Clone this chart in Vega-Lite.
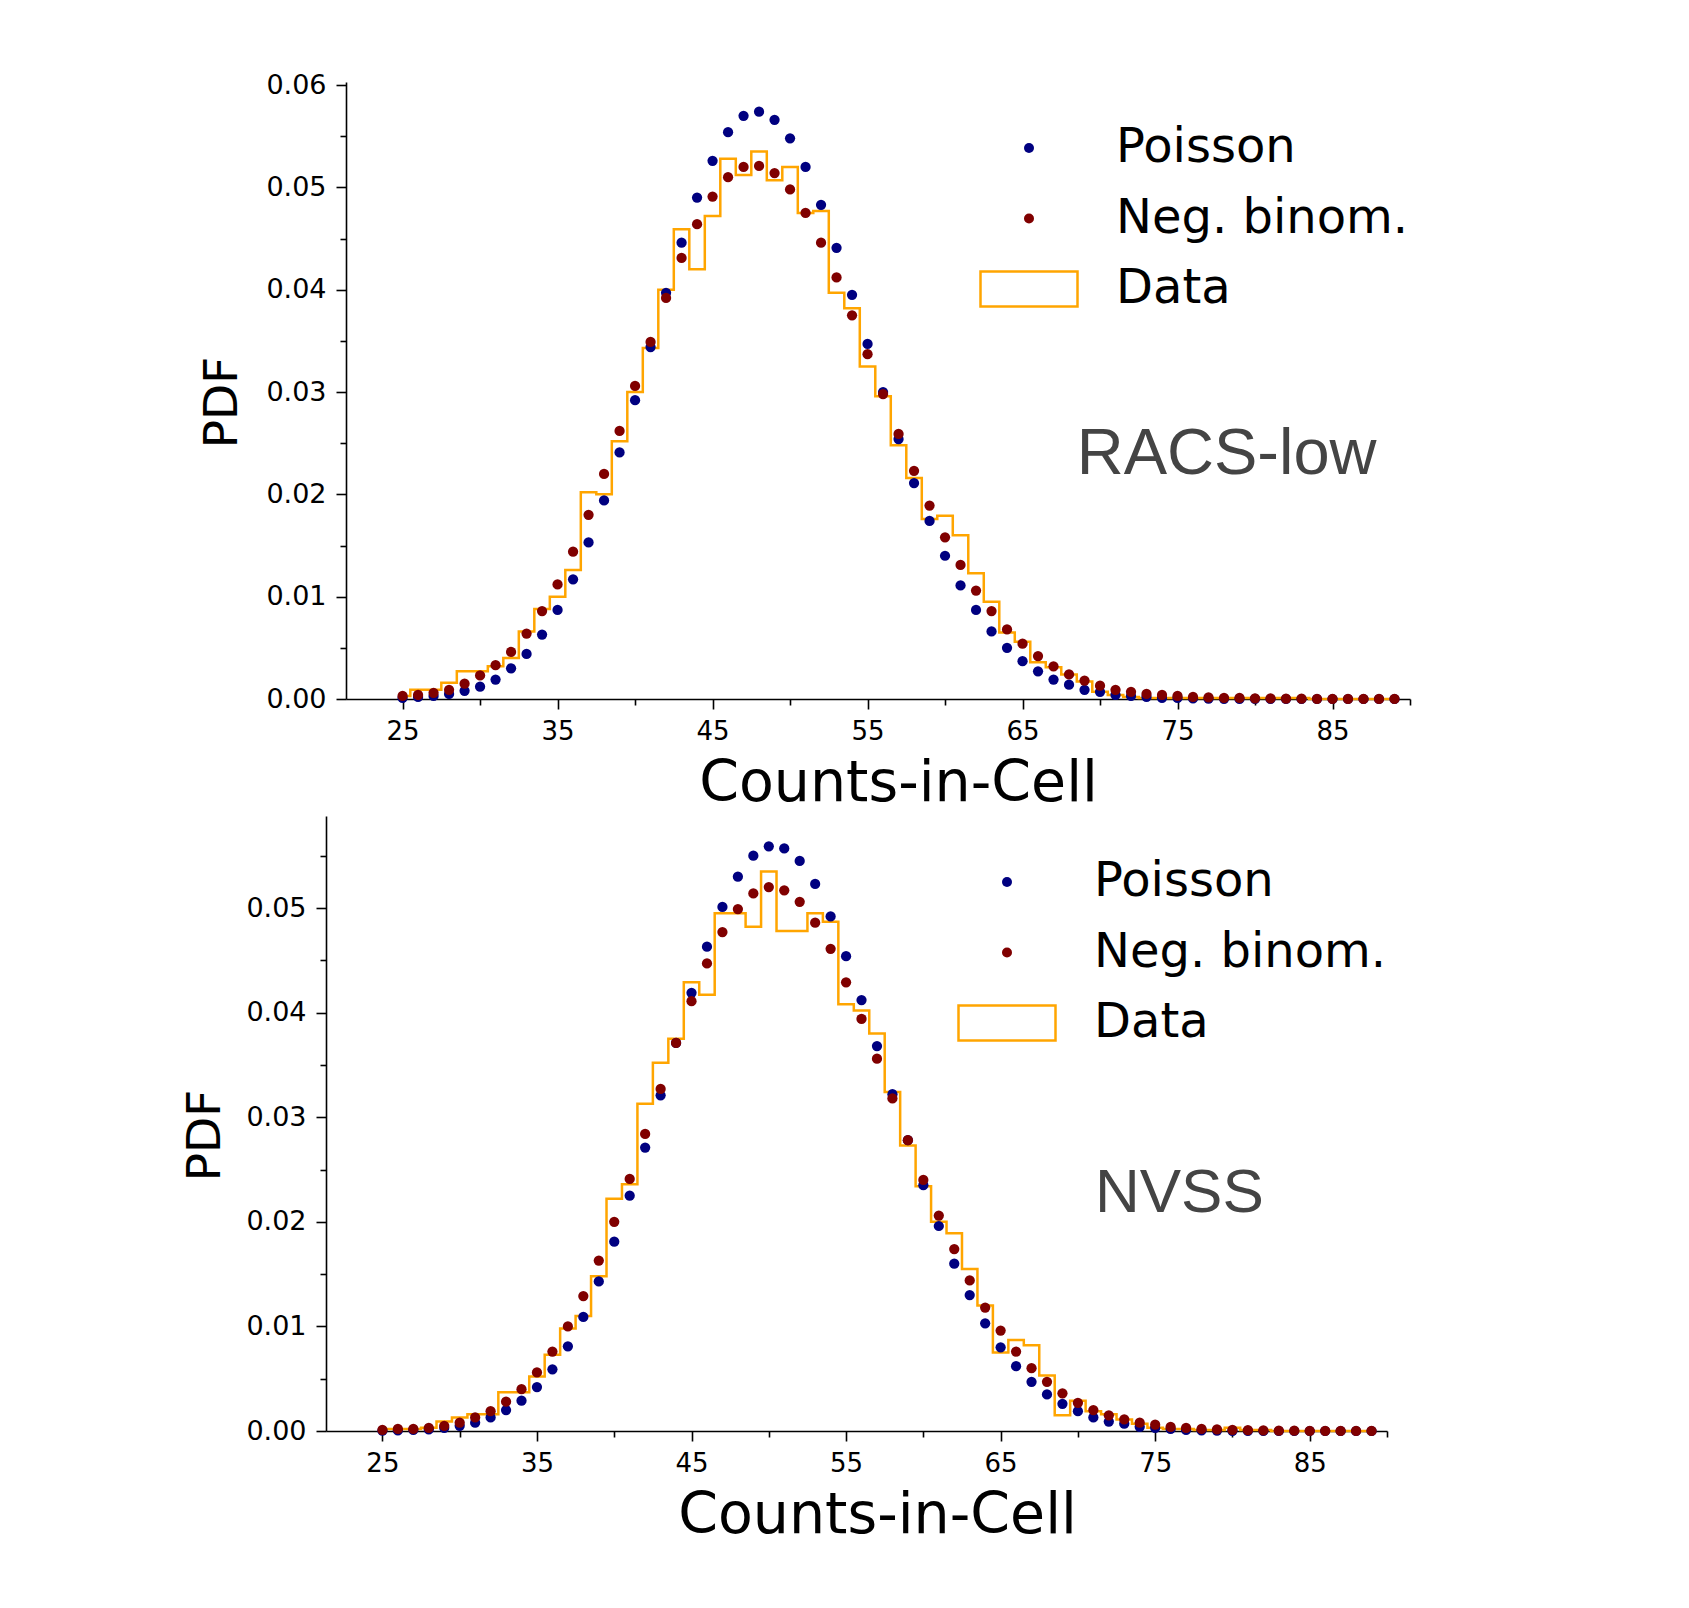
{
  "$schema": "https://vega.github.io/schema/vega-lite/v6.json",
  "background": "white",
  "padding": {"left": 181, "top": 71, "right": 20, "bottom": 20},
  "datasets": {
    "racs": [
      {"k":25,"poisson":0.0001,"negbin":0.0003,"hist":0.0003},
      {"k":26,"poisson":0.0002,"negbin":0.0004,"hist":0.0009},
      {"k":27,"poisson":0.0003,"negbin":0.0006,"hist":0.0009},
      {"k":28,"poisson":0.0005,"negbin":0.0009,"hist":0.0016},
      {"k":29,"poisson":0.0008,"negbin":0.0015,"hist":0.0027},
      {"k":30,"poisson":0.0012,"negbin":0.0023,"hist":0.0027},
      {"k":31,"poisson":0.0019,"negbin":0.0033,"hist":0.0032},
      {"k":32,"poisson":0.0030,"negbin":0.0046,"hist":0.0040},
      {"k":33,"poisson":0.0044,"negbin":0.0064,"hist":0.0066},
      {"k":34,"poisson":0.0063,"negbin":0.0086,"hist":0.0088},
      {"k":35,"poisson":0.0087,"negbin":0.0112,"hist":0.0100},
      {"k":36,"poisson":0.0117,"negbin":0.0144,"hist":0.0126},
      {"k":37,"poisson":0.0153,"negbin":0.0180,"hist":0.0202},
      {"k":38,"poisson":0.0194,"negbin":0.0220,"hist":0.0200},
      {"k":39,"poisson":0.0241,"negbin":0.0262,"hist":0.0252},
      {"k":40,"poisson":0.0292,"negbin":0.0306,"hist":0.0300},
      {"k":41,"poisson":0.0344,"negbin":0.0349,"hist":0.0343},
      {"k":42,"poisson":0.0397,"negbin":0.0392,"hist":0.0400},
      {"k":43,"poisson":0.0446,"negbin":0.0431,"hist":0.0459},
      {"k":44,"poisson":0.0490,"negbin":0.0464,"hist":0.0420},
      {"k":45,"poisson":0.0526,"negbin":0.0491,"hist":0.0472},
      {"k":46,"poisson":0.0554,"negbin":0.0510,"hist":0.0528},
      {"k":47,"poisson":0.0570,"negbin":0.0520,"hist":0.0512},
      {"k":48,"poisson":0.0574,"negbin":0.0521,"hist":0.0535},
      {"k":49,"poisson":0.0566,"negbin":0.0514,"hist":0.0507},
      {"k":50,"poisson":0.0548,"negbin":0.0498,"hist":0.0520},
      {"k":51,"poisson":0.0520,"negbin":0.0475,"hist":0.0475},
      {"k":52,"poisson":0.0483,"negbin":0.0446,"hist":0.0477},
      {"k":53,"poisson":0.0441,"negbin":0.0412,"hist":0.0397},
      {"k":54,"poisson":0.0395,"negbin":0.0375,"hist":0.0382},
      {"k":55,"poisson":0.0347,"negbin":0.0337,"hist":0.0325},
      {"k":56,"poisson":0.0300,"negbin":0.0298,"hist":0.0296},
      {"k":57,"poisson":0.0254,"negbin":0.0259,"hist":0.0248},
      {"k":58,"poisson":0.0211,"negbin":0.0223,"hist":0.0216},
      {"k":59,"poisson":0.0174,"negbin":0.0189,"hist":0.0176},
      {"k":60,"poisson":0.0140,"negbin":0.0158,"hist":0.0179},
      {"k":61,"poisson":0.0111,"negbin":0.0131,"hist":0.0160},
      {"k":62,"poisson":0.0087,"negbin":0.0106,"hist":0.0123},
      {"k":63,"poisson":0.0066,"negbin":0.0086,"hist":0.0095},
      {"k":64,"poisson":0.0050,"negbin":0.0068,"hist":0.0065},
      {"k":65,"poisson":0.0037,"negbin":0.0054,"hist":0.0056},
      {"k":66,"poisson":0.0027,"negbin":0.0042,"hist":0.0036},
      {"k":67,"poisson":0.0019,"negbin":0.0032,"hist":0.0031},
      {"k":68,"poisson":0.0014,"negbin":0.0024,"hist":0.0024},
      {"k":69,"poisson":0.0009,"negbin":0.0018,"hist":0.0017},
      {"k":70,"poisson":0.0007,"negbin":0.0013,"hist":0.0007},
      {"k":71,"poisson":0.0004,"negbin":0.0009,"hist":0.0004},
      {"k":72,"poisson":0.0003,"negbin":0.0007,"hist":0.0002},
      {"k":73,"poisson":0.0002,"negbin":0.0005,"hist":0.0001},
      {"k":74,"poisson":0.0001,"negbin":0.0004,"hist":0.0001},
      {"k":75,"poisson":0.0001,"negbin":0.0003,"hist":0.0001},
      {"k":76,"poisson":0.00005,"negbin":0.0002,"hist":0.0001},
      {"k":77,"poisson":0.00003,"negbin":0.00015,"hist":0.0001},
      {"k":78,"poisson":0.00002,"negbin":0.0001,"hist":0.0001},
      {"k":79,"poisson":0.00001,"negbin":0.0001,"hist":0.0001},
      {"k":80,"poisson":0.00001,"negbin":0.00007,"hist":0.0001},
      {"k":81,"poisson":0.0,"negbin":0.00005,"hist":0.0001},
      {"k":82,"poisson":0.0,"negbin":0.00004,"hist":0.0001},
      {"k":83,"poisson":0.0,"negbin":0.00003,"hist":0.0001},
      {"k":84,"poisson":0.0,"negbin":0.00002,"hist":0.0},
      {"k":85,"poisson":0.0,"negbin":0.00002,"hist":0.0},
      {"k":86,"poisson":0.0,"negbin":0.00001,"hist":0.0},
      {"k":87,"poisson":0.0,"negbin":0.00001,"hist":0.0},
      {"k":88,"poisson":0.0,"negbin":0.00001,"hist":0.0},
      {"k":89,"poisson":0.0,"negbin":0.00001,"hist":0.0}
    ],
    "nvss": [
      {"k":25,"poisson":0.00003,"negbin":0.0001,"hist":0.0002},
      {"k":26,"poisson":0.00005,"negbin":0.0002,"hist":0.0002},
      {"k":27,"poisson":0.0001,"negbin":0.0002,"hist":0.0002},
      {"k":28,"poisson":0.00015,"negbin":0.0003,"hist":0.0003},
      {"k":29,"poisson":0.0003,"negbin":0.0005,"hist":0.0009},
      {"k":30,"poisson":0.0005,"negbin":0.0008,"hist":0.0013},
      {"k":31,"poisson":0.0008,"negbin":0.0013,"hist":0.0016},
      {"k":32,"poisson":0.0013,"negbin":0.0019,"hist":0.0016},
      {"k":33,"poisson":0.0020,"negbin":0.0028,"hist":0.0037},
      {"k":34,"poisson":0.0029,"negbin":0.0040,"hist":0.0037},
      {"k":35,"poisson":0.0042,"negbin":0.0056,"hist":0.0052},
      {"k":36,"poisson":0.0059,"negbin":0.0076,"hist":0.0073},
      {"k":37,"poisson":0.0081,"negbin":0.0100,"hist":0.0098},
      {"k":38,"poisson":0.0109,"negbin":0.0129,"hist":0.0110},
      {"k":39,"poisson":0.0143,"negbin":0.0163,"hist":0.0148},
      {"k":40,"poisson":0.0181,"negbin":0.0200,"hist":0.0222},
      {"k":41,"poisson":0.0225,"negbin":0.0241,"hist":0.0236},
      {"k":42,"poisson":0.0271,"negbin":0.0284,"hist":0.0313},
      {"k":43,"poisson":0.0321,"negbin":0.0327,"hist":0.0352},
      {"k":44,"poisson":0.0371,"negbin":0.0371,"hist":0.0375},
      {"k":45,"poisson":0.0419,"negbin":0.0411,"hist":0.0429},
      {"k":46,"poisson":0.0463,"negbin":0.0447,"hist":0.0417},
      {"k":47,"poisson":0.0501,"negbin":0.0477,"hist":0.0495},
      {"k":48,"poisson":0.0530,"negbin":0.0499,"hist":0.0495},
      {"k":49,"poisson":0.0550,"negbin":0.0514,"hist":0.0482},
      {"k":50,"poisson":0.0559,"negbin":0.0520,"hist":0.0535},
      {"k":51,"poisson":0.0557,"negbin":0.0517,"hist":0.0478},
      {"k":52,"poisson":0.0545,"negbin":0.0506,"hist":0.0478},
      {"k":53,"poisson":0.0523,"negbin":0.0486,"hist":0.0495},
      {"k":54,"poisson":0.0492,"negbin":0.0461,"hist":0.0487},
      {"k":55,"poisson":0.0454,"negbin":0.0429,"hist":0.0408},
      {"k":56,"poisson":0.0412,"negbin":0.0394,"hist":0.0402},
      {"k":57,"poisson":0.0368,"negbin":0.0356,"hist":0.0380},
      {"k":58,"poisson":0.0322,"negbin":0.0318,"hist":0.0324},
      {"k":59,"poisson":0.0278,"negbin":0.0278,"hist":0.0273},
      {"k":60,"poisson":0.0235,"negbin":0.0240,"hist":0.0234},
      {"k":61,"poisson":0.0196,"negbin":0.0206,"hist":0.0200},
      {"k":62,"poisson":0.0160,"negbin":0.0174,"hist":0.0189},
      {"k":63,"poisson":0.0130,"negbin":0.0144,"hist":0.0155},
      {"k":64,"poisson":0.0103,"negbin":0.0118,"hist":0.0120},
      {"k":65,"poisson":0.0080,"negbin":0.0096,"hist":0.0075},
      {"k":66,"poisson":0.0062,"negbin":0.0076,"hist":0.0087},
      {"k":67,"poisson":0.0047,"negbin":0.0060,"hist":0.0082},
      {"k":68,"poisson":0.0035,"negbin":0.0047,"hist":0.0053},
      {"k":69,"poisson":0.0026,"negbin":0.0036,"hist":0.0015},
      {"k":70,"poisson":0.0019,"negbin":0.0027,"hist":0.0029},
      {"k":71,"poisson":0.0013,"negbin":0.0020,"hist":0.0019},
      {"k":72,"poisson":0.0009,"negbin":0.0015,"hist":0.0016},
      {"k":73,"poisson":0.0007,"negbin":0.0011,"hist":0.0011},
      {"k":74,"poisson":0.0004,"negbin":0.0008,"hist":0.0007},
      {"k":75,"poisson":0.0003,"negbin":0.0006,"hist":0.0003},
      {"k":76,"poisson":0.0002,"negbin":0.0004,"hist":0.0002},
      {"k":77,"poisson":0.0001,"negbin":0.0003,"hist":0.0002},
      {"k":78,"poisson":0.00006,"negbin":0.0002,"hist":0.0001},
      {"k":79,"poisson":0.00004,"negbin":0.00015,"hist":0.0001},
      {"k":80,"poisson":0.00002,"negbin":0.0001,"hist":0.0003},
      {"k":81,"poisson":0.00001,"negbin":0.00008,"hist":0.0001},
      {"k":82,"poisson":0.0,"negbin":0.00006,"hist":0.0001},
      {"k":83,"poisson":0.0,"negbin":0.00004,"hist":0.0},
      {"k":84,"poisson":0.0,"negbin":0.00003,"hist":0.0},
      {"k":85,"poisson":0.0,"negbin":0.00002,"hist":0.0},
      {"k":86,"poisson":0.0,"negbin":0.00002,"hist":0.0},
      {"k":87,"poisson":0.0,"negbin":0.00001,"hist":0.0},
      {"k":88,"poisson":0.0,"negbin":0.00001,"hist":0.0},
      {"k":89,"poisson":0.0,"negbin":0.00001,"hist":0.0}
    ]
  },
  "config": {
    "font": "DejaVu Sans",
    "view": {"stroke": null},
    "axis": {
      "grid": false,
      "domainColor": "black", "domainWidth": 1.6,
      "tickColor": "black", "tickWidth": 1.6,
      "labelColor": "black", "labelFont": "DejaVu Sans", "labelFontSize": 26, "labelPadding": 9,
      "labelOverlap": false, "labelFlush": false,
      "titleColor": "black", "titleFont": "DejaVu Sans", "titleFontWeight": "normal"
    },
    "axisY": {"labelFontSize": 27, "labelPadding": 10},
    "legend": {
      "orient": "none", "title": null, "padding": 0,
      "labelFont": "DejaVu Sans", "labelFontSize": 48, "labelColor": "black", "labelLimit": 0,
      "symbolSize": 9409, "symbolStrokeWidth": 2.5, "labelOffset": 63, "rowPadding": 22.5
    }
  },
  "spacing": 117,
  "bounds": "flush",
  "resolve": {"scale": {"x": "independent", "y": "independent", "color": "independent"}, "legend": {"color": "independent"}},
  "vconcat": [
    {
      "width": 1084, "height": 617,
      "data": {"name": "racs"},
      "layer": [
        {
          "mark": {"type": "line", "interpolate": "step", "strokeWidth": 2.5},
          "encoding": {
            "x": {"field": "k", "type": "quantitative",
              "scale": {"domain": [21.35, 90], "range": [20, 1084], "nice": false, "zero": false},
              "axis": {"title": "Counts-in-Cell", "titleFontSize": 57, "titleX": 572, "titlePadding": 11,
                "values": [25,30,35,40,45,50,55,60,65,70,75,80,85,90],
                "labelExpr": "(datum.value - 25) % 10 == 0 ? datum.label : ''",
                "tickSize": {"condition": {"test": "(datum.value - 25) % 10 == 0", "value": 10}, "value": 6}}},
            "y": {"field": "hist", "type": "quantitative",
              "scale": {"domain": [0, 0.0603], "nice": false},
              "axis": {"title": "PDF", "titleFontSize": 47, "titlePadding": 19, "titleY": 320, "offset": -20,
                "values": [0,0.005,0.01,0.015,0.02,0.025,0.03,0.035,0.04,0.045,0.05,0.055,0.06],
                "labelExpr": "round(datum.value*1000) % 10 == 0 ? format(datum.value, '.2f') : ''",
                "tickSize": {"condition": {"test": "round(datum.value*1000) % 10 == 0", "value": 10}, "value": 6}}},
            "color": {"datum": "hist", "type": "nominal",
              "scale": {"domain": ["poisson", "negbin", "hist"], "range": ["#000080", "#800000", "#ffa500"]},
              "legend": {"legendX": 679, "legendY": 42,
                "labelExpr": "datum.value == 'poisson' ? 'Poisson' : datum.value == 'negbin' ? 'Neg. binom.' : 'Data'",
                "encode": {"symbols": {"update": {
                  "shape": {"signal": "datum.value == 'hist' ? 'M-1,-0.36L1,-0.36L1,0.36L-1,0.36Z' : 'circle'"},
                  "size": {"signal": "datum.value == 'hist' ? 9409 : 100"},
                  "fill": {"signal": "datum.value == 'hist' ? 'transparent' : datum.value == 'poisson' ? '#000080' : '#800000'"},
                  "fillOpacity": {"signal": "datum.value == 'hist' ? 0 : 1"},
                  "stroke": {"signal": "datum.value == 'hist' ? '#ffa500' : 'transparent'"},
                  "strokeOpacity": {"signal": "datum.value == 'hist' ? 1 : 0"},
                  "strokeWidth": {"value": 2.5},
                  "opacity": {"value": 1}
                }}}}}
          }
        },
        {
          "transform": [{"fold": ["poisson", "negbin"], "as": ["series", "pdf"]}],
          "mark": {"type": "point", "filled": true, "size": 105, "opacity": 1},
          "encoding": {
            "x": {"field": "k", "type": "quantitative"},
            "y": {"field": "pdf", "type": "quantitative"},
            "color": {"field": "series", "type": "nominal"}
          }
        },
        {
          "data": {"values": [{}]},
          "mark": {"type": "text", "font": "Liberation Sans", "fontSize": 65, "color": "#444444", "align": "left", "baseline": "alphabetic"},
          "encoding": {
            "x": {"datum": 68.5, "type": "quantitative"},
            "y": {"datum": 0.0220, "type": "quantitative"},
            "text": {"value": "RACS-low"}
          }
        }
      ]
    },
    {
      "width": 1061, "height": 615,
      "data": {"name": "nvss"},
      "layer": [
        {
          "mark": {"type": "line", "interpolate": "step", "strokeWidth": 2.5},
          "encoding": {
            "x": {"field": "k", "type": "quantitative",
              "scale": {"domain": [21.35, 90], "nice": false, "zero": false},
              "axis": {"title": "Counts-in-Cell", "titleFontSize": 57, "titleX": 551, "titlePadding": 11,
                "values": [25,30,35,40,45,50,55,60,65,70,75,80,85,90],
                "labelExpr": "(datum.value - 25) % 10 == 0 ? datum.label : ''",
                "tickSize": {"condition": {"test": "(datum.value - 25) % 10 == 0", "value": 10}, "value": 6}}},
            "y": {"field": "hist", "type": "quantitative",
              "scale": {"domain": [0, 0.0588], "nice": false},
              "axis": {"title": "PDF", "titleFontSize": 47, "titlePadding": 16, "titleY": 319,
                "values": [0,0.005,0.01,0.015,0.02,0.025,0.03,0.035,0.04,0.045,0.05,0.055],
                "labelExpr": "round(datum.value*1000) % 10 == 0 ? format(datum.value, '.2f') : ''",
                "tickSize": {"condition": {"test": "round(datum.value*1000) % 10 == 0", "value": 10}, "value": 6}}},
            "color": {"datum": "hist", "type": "nominal",
              "scale": {"domain": ["poisson", "negbin", "hist"], "range": ["#000080", "#800000", "#ffa500"]},
              "legend": {"legendX": 657, "legendY": 42,
                "labelExpr": "datum.value == 'poisson' ? 'Poisson' : datum.value == 'negbin' ? 'Neg. binom.' : 'Data'",
                "encode": {"symbols": {"update": {
                  "shape": {"signal": "datum.value == 'hist' ? 'M-1,-0.36L1,-0.36L1,0.36L-1,0.36Z' : 'circle'"},
                  "size": {"signal": "datum.value == 'hist' ? 9409 : 100"},
                  "fill": {"signal": "datum.value == 'hist' ? 'transparent' : datum.value == 'poisson' ? '#000080' : '#800000'"},
                  "fillOpacity": {"signal": "datum.value == 'hist' ? 0 : 1"},
                  "stroke": {"signal": "datum.value == 'hist' ? '#ffa500' : 'transparent'"},
                  "strokeOpacity": {"signal": "datum.value == 'hist' ? 1 : 0"},
                  "strokeWidth": {"value": 2.5},
                  "opacity": {"value": 1}
                }}}}}
          }
        },
        {
          "transform": [{"fold": ["poisson", "negbin"], "as": ["series", "pdf"]}],
          "mark": {"type": "point", "filled": true, "size": 105, "opacity": 1},
          "encoding": {
            "x": {"field": "k", "type": "quantitative"},
            "y": {"field": "pdf", "type": "quantitative"},
            "color": {"field": "series", "type": "nominal"}
          }
        },
        {
          "data": {"values": [{}]},
          "mark": {"type": "text", "font": "Liberation Sans", "fontSize": 62, "color": "#444444", "align": "left", "baseline": "alphabetic"},
          "encoding": {
            "x": {"datum": 71.1, "type": "quantitative"},
            "y": {"datum": 0.0209, "type": "quantitative"},
            "text": {"value": "NVSS"}
          }
        }
      ]
    }
  ]
}
